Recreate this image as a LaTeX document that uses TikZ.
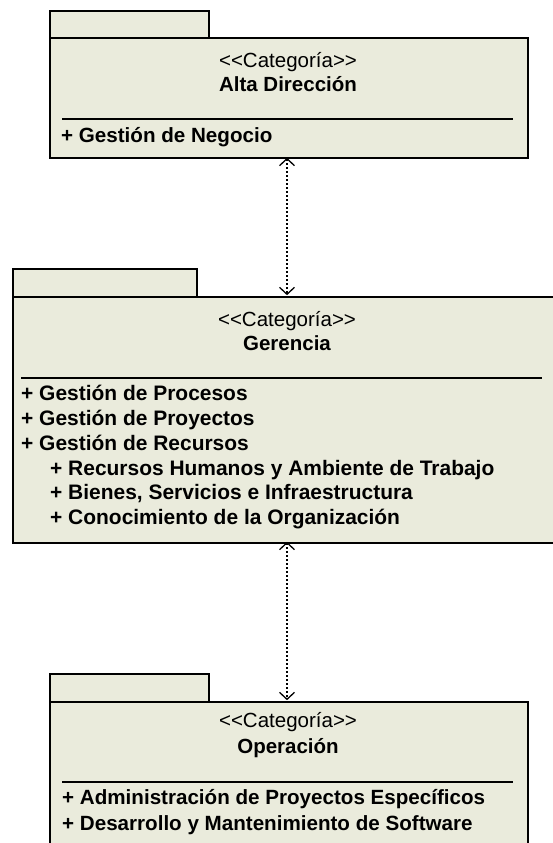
\documentclass[tikz,border=0pt]{standalone}
\usepackage{fontspec}
\setmainfont{Liberation Sans}
\usetikzlibrary{arrows.meta}
\definecolor{pkgfill}{RGB}{234,235,220}
\begin{document}
\begin{tikzpicture}[x=1pt,y=-1pt,
  tabbox/.style={draw=black, fill=pkgfill, line width=1.6pt, inner sep=0pt, anchor=north west, minimum height=27pt},
  bodybox/.style={draw=black, fill=pkgfill, line width=1.6pt, inner sep=0pt, anchor=north west},
  stereo/.style={inner sep=0pt, anchor=base, font=\fontsize{20.5}{25}\selectfont},
  title/.style={inner sep=0pt, anchor=base, font=\fontsize{20.5}{25}\selectfont\bfseries},
  item/.style={inner sep=0pt, anchor=base west, font=\fontsize{20.6}{25}\selectfont\bfseries},
  miditem/.style={inner sep=0pt, anchor=base west, font=\fontsize{20.95}{25}\selectfont\bfseries},
  sepline/.style={line width=2pt},
  dep/.style={line width=1.5pt, dash pattern=on 2pt off 2pt, {Straight Barb[length=7pt,width=15pt,line width=1.3pt]}-{Straight Barb[length=7pt,width=15pt,line width=1.3pt]}}
]
\useasboundingbox (0,0) rectangle (553,843);
\clip (0,0) rectangle (553,843);

% ---- Alta Direccion ----
\node[tabbox, minimum width=159pt] (altaTab) at (49,10) {};
\node[bodybox, minimum width=478pt, minimum height=120pt] (alta) at (49,37) {};
\node[stereo] (altaS) at (288,67) {{<}{<}Categoría{>}{>}};
\node[title] (altaT) at (288,92) {Alta Dirección};
\coordinate (altaL) at (62,119);
\coordinate (altaR) at (513,119);
\draw[sepline] (altaL) -- (altaR);
\node[item] (altaI1) at (61,142) {+ Gestión de Negocio};

% ---- Gerencia ----
\node[tabbox, minimum width=184pt, minimum height=28pt] (gerTab) at (12,268) {};
\node[bodybox, minimum width=550pt, minimum height=246pt] (ger) at (12,296) {};
\node[stereo] (gerS) at (287,326) {{<}{<}Categoría{>}{>}};
\node[title] (gerT) at (287,350) {Gerencia};
\coordinate (gerL) at (21,378);
\coordinate (gerR) at (542,378);
\draw[sepline] (gerL) -- (gerR);
\node[miditem] (gerI1) at (21,400.5) {+ Gestión de Procesos};
\node[miditem] (gerI2) at (21,425.3) {+ Gestión de Proyectos};
\node[miditem] (gerI3) at (21,450) {+ Gestión de Recursos};
\node[miditem] (gerI4) at (50,475) {+ Recursos Humanos y Ambiente de Trabajo};
\node[miditem] (gerI5) at (50,499.8) {+ Bienes, Servicios e Infraestructura};
\node[miditem] (gerI6) at (50,524.5) {+ Conocimiento de la Organización};

% ---- Operacion ----
\node[tabbox, minimum width=159pt, minimum height=28pt] (opTab) at (49,673) {};
\node[bodybox, minimum width=478pt, minimum height=160pt] (op) at (49,701) {};
\node[stereo] (opS) at (288,727) {{<}{<}Categoría{>}{>}};
\node[title] (opT) at (288,753) {Operación};
\coordinate (opL) at (62,782);
\coordinate (opR) at (513,782);
\draw[sepline] (opL) -- (opR);
\node[item] (opI1) at (62,804) {+ Administración de Proyectos Específicos};
\node[item] (opI2) at (62,830) {+ Desarrollo y Mantenimiento de Software};

% ---- dependencies ----
\coordinate (a1) at (287,157.8);
\coordinate (a2) at (287,295.2);
\coordinate (b1) at (287,541.8);
\coordinate (b2) at (287,700.2);
\draw[dep] (a1) -- (a2);
\draw[dep] (b1) -- (b2);
\end{tikzpicture}
\end{document}
